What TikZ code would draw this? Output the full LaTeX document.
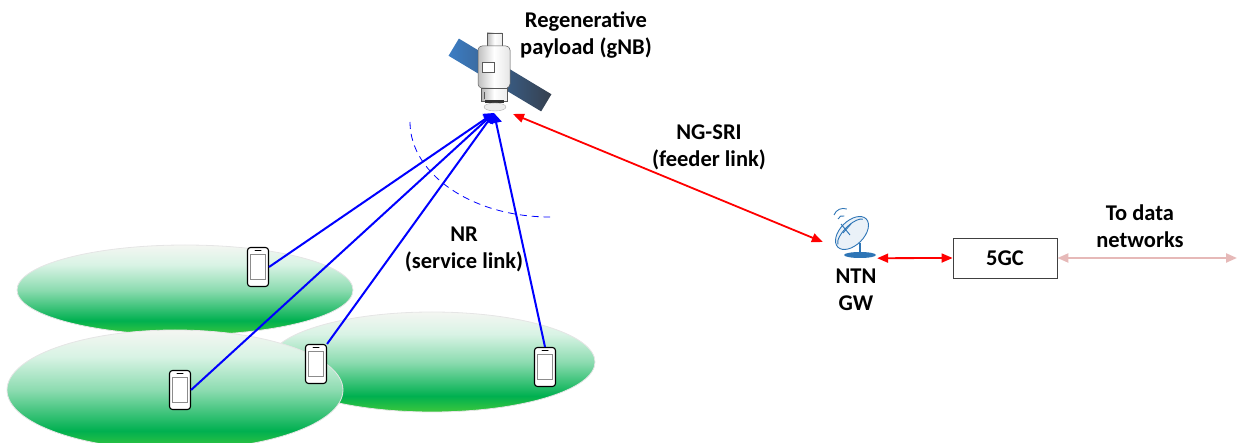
\documentclass[tikz,border=0pt]{standalone}
\usepackage{fontspec}
\setmainfont{Carlito}
\usepackage{tikz}
\usetikzlibrary{positioning,arrows.meta}

\definecolor{cellgreen}{HTML}{00B050}
\definecolor{celllight}{HTML}{3CC83C}
\definecolor{celltop}{HTML}{F4F6F2}
\definecolor{feedred}{HTML}{FF0000}
\definecolor{beamblue}{HTML}{0000FF}
\definecolor{netpink}{HTML}{E6B9B8}
\definecolor{panelblue}{HTML}{3C7DC4}
\definecolor{paneldark}{HTML}{36404E}
\definecolor{dishblue}{HTML}{2E75B6}

\pgfdeclareverticalshading{cellshade}{100bp}{color(0bp)=(celllight); color(25bp)=(celllight); color(33bp)=(cellgreen); color(50bp)=(cellgreen!45!white); color(64bp)=(cellgreen!15!white); color(75bp)=(celltop); color(100bp)=(celltop)}

\begin{document}
\begin{tikzpicture}[x=1pt, y=-1pt, >={Triangle[length=11pt,width=9pt]},
    every node/.style={font=\bfseries\fontsize{22.5}{27}\selectfont, align=center},
    cell/.style={shading=cellshade, draw=white!80!gray, line width=0.8pt},
    phone/.style={draw=black, line width=1.1pt, fill=white, rounded corners=3pt,
        minimum width=21pt, minimum height=39pt, inner sep=0pt,
        path picture={
            \draw[black!45, line width=0.6pt, sharp corners]
                ([shift={(3pt,-7pt)}]path picture bounding box.north west) rectangle
                ([shift={(-3pt,7pt)}]path picture bounding box.south east);
            \draw[line width=1pt, line cap=round]
                ([shift={(-3pt,-3.5pt)}]path picture bounding box.north) --
                ([shift={(3pt,-3.5pt)}]path picture bounding box.north);
            \foreach \dx in {-3,0,3}
                \fill ([shift={(\dx pt,3.5pt)}]path picture bounding box.south) circle (0.8pt);
        }},
    beam/.style={beamblue, line width=2pt, -{Triangle[length=10pt,width=11pt]}},
    feeder/.style={feedred, line width=1.8pt, <->},
    corebox/.style={draw=black!75, line width=0.8pt, minimum width=104pt, minimum height=40pt},
    bodyline/.style={draw=black!65, line width=0.5pt}]

\useasboundingbox (0,0) rectangle (1237,443);

% coverage cells
\path[cell] (185,290) ellipse [x radius=168, y radius=45];
\path[cell] (432,362) ellipse [x radius=163, y radius=50];
\path[cell] (175,390) ellipse [x radius=168, y radius=60];

% user terminals
\node[phone] (ph1) at (258,267) {};
\node[phone] (ph2) at (180,390) {};
\node[phone] (ph3) at (316,364) {};
\node[phone] (ph4) at (545,367) {};

% beam edge
\draw[beamblue, line width=0.8pt, dash pattern=on 7pt off 5pt]
    (410,122) arc[start angle=180, end angle=90, x radius=140, y radius=95];

% satellite
\shade[left color=panelblue, right color=paneldark, rotate around={-31:(500,75)}]
    (446,65) rectangle (554,85);
\draw[bodyline, left color=gray!55, right color=gray!15, middle color=white] (487,33) rectangle (502,48);
\draw[bodyline, left color=gray!50, right color=gray!20, middle color=white, rounded corners=4pt] (478,46) rectangle (510,88);
\draw[bodyline, fill=white] (482,62) rectangle (494,72);
\draw[bodyline, left color=gray!60, right color=gray!15, middle color=white] (481,88) rectangle (507,101);
\draw[bodyline] (484,92) -- (484,99);
\fill[black!80] (485,100) rectangle (504,103);
\draw[draw=gray!60, fill=gray!15] (495,107) ellipse [x radius=11, y radius=4];
\coordinate (satbeam) at (494,113);
\coordinate (satfeed) at (513,114);

\node at (586,35) {Regenerative\\payload (gNB)};

% gateway dish
\begin{scope}[dishblue, line width=0.9pt]
    \draw[fill=dishblue!10, rotate around={45:(852,233)}] (852,233) ellipse [x radius=20, y radius=12];
    \draw[rotate around={45:(852,233)}] (834,231) arc[start angle=190, end angle=350, x radius=18, y radius=7];
    \draw (850,235) -- (841,224);
    \draw (843,233) -- (851,224);
    \draw (838,219) arc[start angle=200, end angle=290, radius=5];
    \draw (834,215) arc[start angle=200, end angle=290, radius=10];
    \draw[line width=2pt] (860,243) -- (860,252);
    \fill (860,255) ellipse [x radius=16, y radius=3];
\end{scope}
\node[minimum width=54pt, minimum height=32pt, inner sep=0pt] (gw) at (850,242) {};
\node at (856,290) {NTN\\GW};

% core and data network
\node[corebox] (core) at (1005,258) {5GC};
\coordinate (dn) at (1237,258);

% links
\foreach \ph/\anc in {ph1/east, ph2/east, ph3/north east, ph4/north}
    \draw[beam] (\ph.\anc) -- (satbeam);
\draw[feeder] (satfeed) -- (gw.west);
\draw[feeder] (gw.south east) -- (core.west);
\draw[netpink, line width=2.2pt, <->] (core.east) -- (dn);

\node at (709,147) {NG-SRI\\(feeder link)};
\node at (464,249) {NR\\(service link)};
\node at (1140,226) {To data\\networks};

\end{tikzpicture}
\end{document}
